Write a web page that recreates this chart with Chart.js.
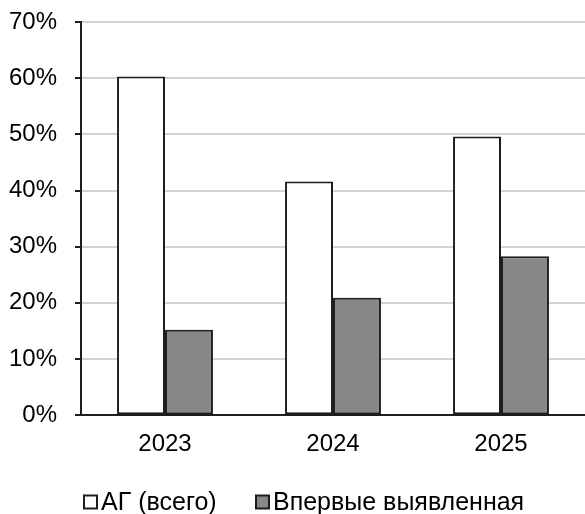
<!DOCTYPE html>
<html>
<head>
<meta charset="utf-8">
<script src="https://cdn.jsdelivr.net/npm/chart.js@4/dist/chart.umd.min.js"></script>
<style>
  html, body { margin: 0; padding: 0; background: #fff; }
  #wrap { width: 585px; height: 514px; position: relative; }
</style>
</head>
<body>
<div id="wrap"><canvas id="c" width="585" height="514"></canvas></div>
<script>
// Share of patients with arterial hypertension, by year
const years = ['2023', '2024', '2025'];
const totalAH = [60.3, 41.6, 49.6];      // АГ (всего)
const newlyFound = [15.2, 20.9, 28.3];   // Впервые выявленная
const yTicks = [0, 10, 20, 30, 40, 50, 60, 70];

const FAMILY = '"Liberation Sans", Arial, sans-serif';
const axisFont = { family: FAMILY, size: 24 };
const legendFontSize = 25;
const legendItemX = [84, 256];   // left edge of each legend swatch
const legendCenterY = 502;

// Legend drawn below the axis: small square swatch followed by the label
const bottomLegend = {
  id: 'bottomLegend',
  afterDraw(chart) {
    const ctx = chart.ctx;
    ctx.save();
    ctx.font = legendFontSize + 'px ' + FAMILY;
    ctx.textBaseline = 'middle';
    ctx.textAlign = 'left';
    chart.data.datasets.forEach((ds, i) => {
      const x = legendItemX[i];
      const s = 13;
      ctx.fillStyle = ds.backgroundColor;
      ctx.fillRect(x, legendCenterY - s / 2, s, s);
      ctx.lineWidth = 2;
      ctx.strokeStyle = '#1e1e1e';
      ctx.strokeRect(x, legendCenterY - s / 2, s, s);
      ctx.fillStyle = '#000';
      ctx.fillText(ds.label, x + s + 4, legendCenterY + 1);
    });
    ctx.restore();
  }
};

new Chart(document.getElementById('c'), {
  type: 'bar',
  data: {
    labels: years,
    datasets: [
      {
        label: 'АГ (всего)',
        data: totalAH,
        backgroundColor: '#ffffff',
        borderColor: '#1e1e1e',
        borderWidth: 2,
        borderSkipped: false
      },
      {
        label: 'Впервые выявленная',
        data: newlyFound,
        backgroundColor: '#888888',
        borderColor: '#1e1e1e',
        borderWidth: 2,
        borderSkipped: false
      }
    ]
  },
  options: {
    responsive: false,
    animation: false,
    devicePixelRatio: 1,
    layout: { padding: { top: 22, right: 0, left: 0, bottom: 40 } },
    datasets: { bar: { categoryPercentage: 0.571, barPercentage: 1.0 } },
    plugins: {
      tooltip: { enabled: false },
      legend: { display: false }
    },
    scales: {
      x: {
        grid: { display: false, drawTicks: false },
        border: { color: '#1e1e1e', width: 2 },
        ticks: { color: '#000', font: axisFont, padding: 15 }
      },
      y: {
        min: 0,
        max: 70,
        afterFit(scale) {
          scale.width = 81;
          scale.paddingTop = 0;
          scale.paddingBottom = 0;
        },
        afterBuildTicks(scale) { scale.ticks = yTicks.map(v => ({ value: v })); },
        grid: {
          color: '#d2d2d2',
          lineWidth: 2,
          tickLength: 6,
          tickColor: '#1e1e1e',
          tickWidth: 2
        },
        border: { color: '#1e1e1e', width: 2 },
        ticks: {
          color: '#000',
          font: axisFont,
          padding: 18,
          callback: v => v + '%'
        }
      }
    }
  },
  plugins: [bottomLegend]
});
</script>
</body>
</html>
